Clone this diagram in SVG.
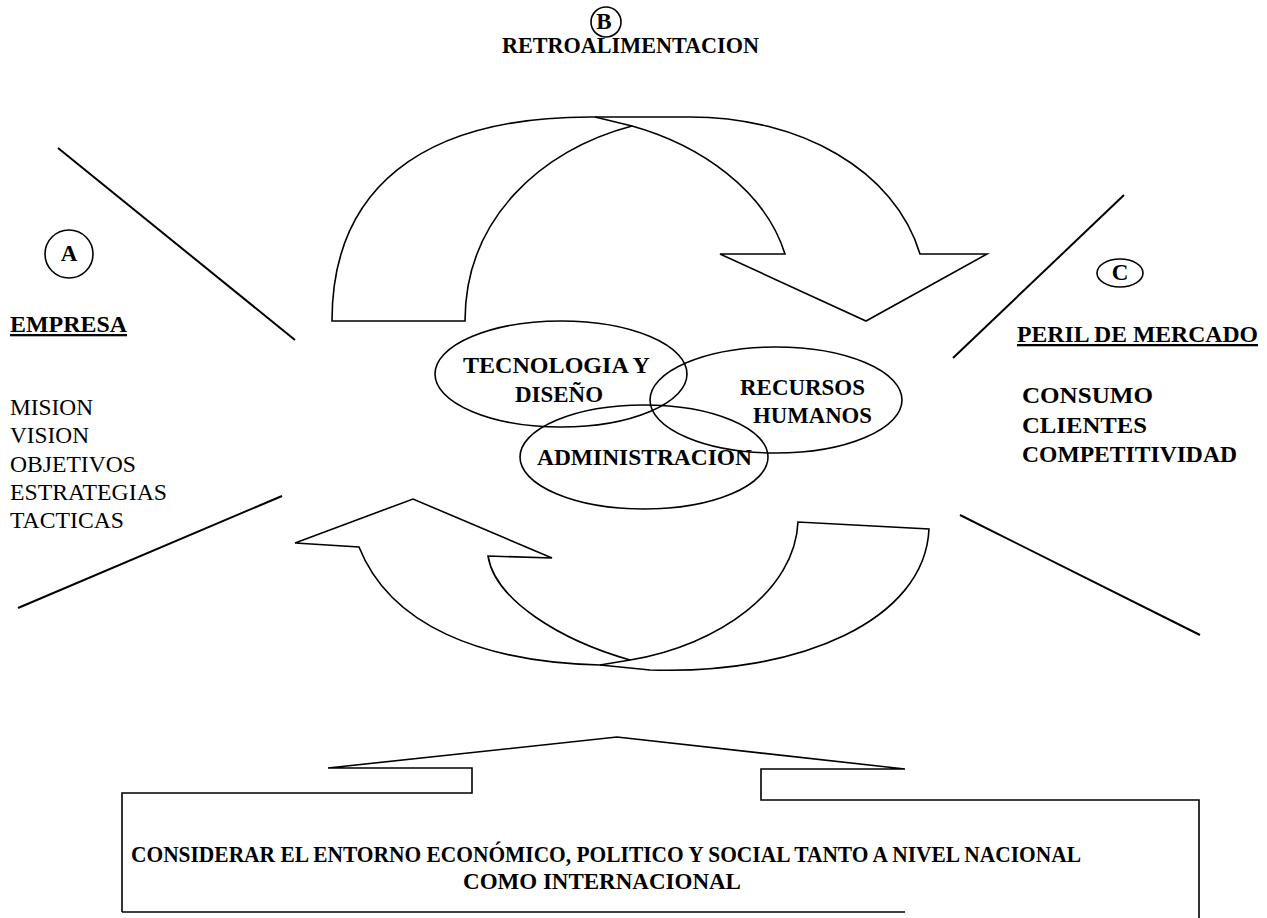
<svg xmlns="http://www.w3.org/2000/svg" width="1267" height="918" viewBox="0 0 1267 918">
<style>
.bg{fill:#ffffff}
.shape{fill:none;stroke:#000;stroke-width:1.6;stroke-linejoin:miter}
.line{stroke:#000;stroke-width:2;fill:none}
.b{font-family:"Liberation Serif","Times New Roman",serif;font-weight:bold;font-size:23px;fill:#000}
.r{font-family:"Liberation Serif","Times New Roman",serif;font-size:23px;fill:#000}
.u{text-decoration:underline}
</style>
<rect class="bg" x="0" y="0" width="1267" height="918"/>

<g id="connectors">
  <!-- top feedback arrow -->
  <path class="shape" d="M332,321 C332,190 420,117 590,117 L690,117 C800,117 895,170 920,254 L987,254 L866,321 L720,254 L785,254 C765,190 700,145 632,126 C540,150 465,220 465,321 Z"/>
  <path class="shape" d="M595,117 L632,126"/>
  <!-- bottom feedback arrow -->
  <path class="shape" d="M359,547 C390,625 480,662 600,665 L650,670 C800,675 925,620 929,529 L798,522 C795,590 720,645 630,660 C560,640 495,600 488,556 L552,558 L413,499 L295,543 Z"/>
  <path class="shape" d="M600,665 L630,660"/>
  <!-- diagonal guide lines -->
  <line class="line" x1="58" y1="148" x2="295" y2="340"/>
  <line class="line" x1="18" y1="608" x2="282" y2="496"/>
  <line class="line" x1="1124" y1="195" x2="953" y2="358"/>
  <line class="line" x1="960" y1="515" x2="1200" y2="635"/>
</g>

<g id="node-B">
  <circle class="shape" cx="606" cy="22" r="15"/>
  <text class="b" x="604" y="29" text-anchor="middle" font-size="18">B</text>
  <text class="b" x="502" y="53" textLength="257" lengthAdjust="spacingAndGlyphs">RETROALIMENTACION</text>
</g>

<g id="node-A">
  <circle class="shape" cx="69" cy="254" r="24"/>
  <text class="b" x="69" y="261" text-anchor="middle" font-size="19">A</text>
  <text class="b u" x="10" y="332" textLength="117" lengthAdjust="spacingAndGlyphs">EMPRESA</text>
  <text class="r" x="10" y="415" textLength="83" lengthAdjust="spacingAndGlyphs">MISION</text>
  <text class="r" x="10" y="443" textLength="79" lengthAdjust="spacingAndGlyphs">VISION</text>
  <text class="r" x="10" y="472" textLength="126" lengthAdjust="spacingAndGlyphs">OBJETIVOS</text>
  <text class="r" x="10" y="500" textLength="157" lengthAdjust="spacingAndGlyphs">ESTRATEGIAS</text>
  <text class="r" x="10" y="528" textLength="114" lengthAdjust="spacingAndGlyphs">TACTICAS</text>
</g>

<g id="node-C">
  <ellipse class="shape" cx="1120" cy="273" rx="23" ry="14"/>
  <text class="b" x="1120" y="280" text-anchor="middle" font-size="19">C</text>
  <text class="b u" x="1017" y="342" textLength="241" lengthAdjust="spacingAndGlyphs">PERIL DE MERCADO</text>
  <text class="b" x="1022" y="403" textLength="131" lengthAdjust="spacingAndGlyphs">CONSUMO</text>
  <text class="b" x="1022" y="433" textLength="125" lengthAdjust="spacingAndGlyphs">CLIENTES</text>
  <text class="b" x="1022" y="462" textLength="215" lengthAdjust="spacingAndGlyphs">COMPETITIVIDAD</text>
</g>

<g id="node-tecnologia">
  <ellipse class="shape" cx="561" cy="374" rx="126" ry="53"/>
</g>
<g id="node-recursos">
  <ellipse class="shape" cx="776" cy="400" rx="126" ry="53"/>
</g>
<g id="node-administracion">
  <ellipse class="shape" cx="644" cy="457" rx="124" ry="52"/>
</g>
<g id="labels-center">
  <text class="b" x="463" y="373" textLength="187" lengthAdjust="spacingAndGlyphs">TECNOLOGIA Y</text>
  <text class="b" x="515" y="402" textLength="88" lengthAdjust="spacingAndGlyphs">DISEÑO</text>
  <text class="b" x="740" y="395" textLength="125" lengthAdjust="spacingAndGlyphs">RECURSOS</text>
  <text class="b" x="753" y="423" textLength="119" lengthAdjust="spacingAndGlyphs">HUMANOS</text>
  <text class="b" x="537" y="465" textLength="215" lengthAdjust="spacingAndGlyphs">ADMINISTRACION</text>
</g>

<g id="node-entorno">
  <path class="shape" d="M122,912 L122,793 L472,793 L472,768 L328,768 L617,737 L905,769 L761,769 L761,800 L1199,800 L1199,918"/>
  <line class="shape" x1="122" y1="912" x2="905" y2="912"/>
  <text class="b" x="131" y="862" textLength="950" lengthAdjust="spacingAndGlyphs">CONSIDERAR EL ENTORNO ECONÓMICO, POLITICO Y SOCIAL TANTO A NIVEL NACIONAL</text>
  <text class="b" x="602" y="889" text-anchor="middle">COMO INTERNACIONAL</text>
</g>
</svg>
